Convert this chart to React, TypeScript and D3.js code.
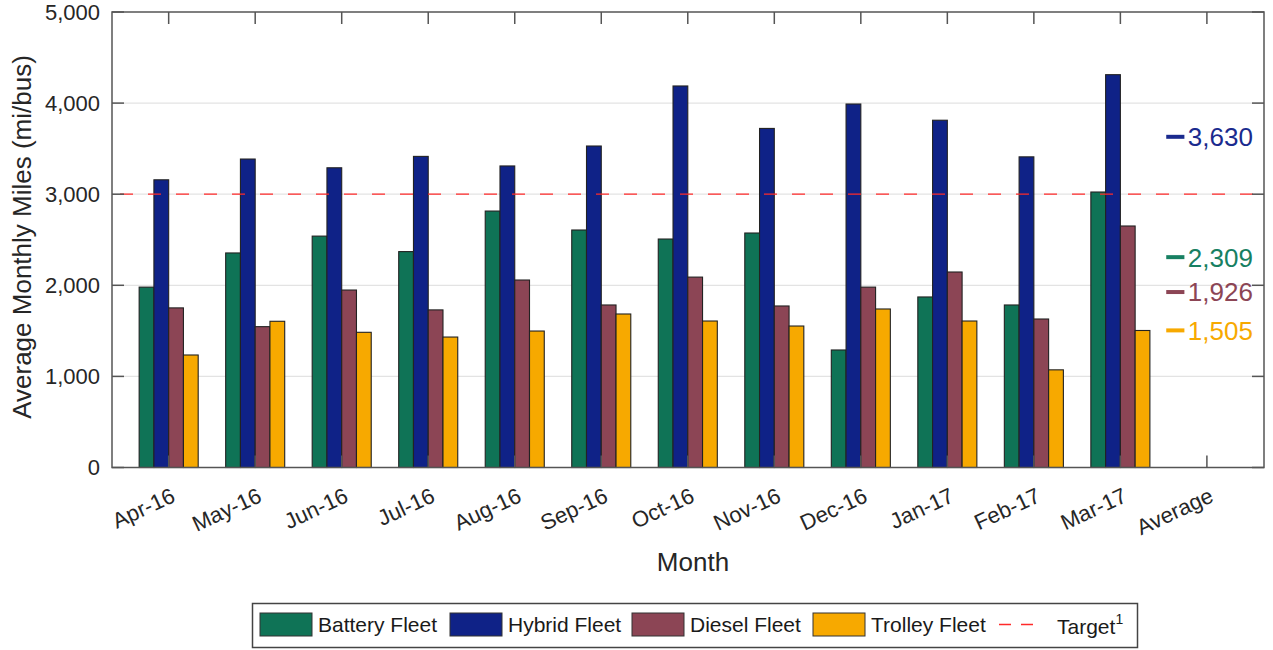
import React, { useRef, useEffect } from "react";
import * as d3 from "d3";

const months = ["Apr-16", "May-16", "Jun-16", "Jul-16", "Aug-16", "Sep-16", "Oct-16", "Nov-16", "Dec-16", "Jan-17", "Feb-17", "Mar-17", "Average"];
const seriesNames = ["Battery Fleet", "Hybrid Fleet", "Diesel Fleet", "Trolley Fleet"];
const battery = [1980, 2355, 2540, 2370, 2815, 2607, 2508, 2574, 1290, 1872, 1784, 3024];
const hybrid = [3158, 3386, 3290, 3415, 3310, 3529, 4188, 3722, 3990, 3812, 3410, 4312];
const diesel = [1752, 1546, 1948, 1730, 2058, 1784, 2090, 1773, 1980, 2146, 1630, 2651];
const trolley = [1235, 1605, 1484, 1432, 1498, 1685, 1608, 1553, 1740, 1608, 1072, 1504];
const averages = [2309, 3630, 1926, 1505];
const target = 3000;
const yTicks = [0, 1000, 2000, 3000, 4000, 5000];
const colors = ["#0f7356", "#0f2287", "#8c4555", "#f7a900"];
const avgColors = ["#178062", "#1a2a8e", "#8c4555", "#f7a900"];

const FONT = "'Liberation Sans', Arial, Helvetica, sans-serif";

const Chart: React.FC = () => {
  const ref = useRef<SVGSVGElement | null>(null);

  useEffect(() => {
    if (!ref.current) return;
    const svg = d3.select(ref.current);
    svg.selectAll("*").remove();

    const left = 112, right = 1264, top = 12, bottom = 467.5;
    const x = d3.scaleLinear().domain([0.345, 13.66]).range([left, right]);
    const y = d3.scaleLinear().domain([0, 5000]).range([bottom, top]);
    const bw = 0.1706;
    const data = [battery, hybrid, diesel, trolley];

    // gridlines
    svg.append("g")
      .selectAll("line")
      .data(yTicks.slice(1, -1))
      .enter()
      .append("line")
      .attr("x1", left).attr("x2", right)
      .attr("y1", (d) => y(d)).attr("y2", (d) => y(d))
      .attr("stroke", "#e3e3e3").attr("stroke-width", 1.2);

    // bars
    data.forEach((vals, s) => {
      svg.append("g")
        .selectAll("rect")
        .data(vals)
        .enter()
        .append("rect")
        .attr("x", (d, i) => x(i + 1 + (s - 2) * bw))
        .attr("y", (d) => y(d))
        .attr("width", x(bw) - x(0))
        .attr("height", (d) => y(0) - y(d))
        .attr("fill", colors[s])
        .attr("stroke", "#222")
        .attr("stroke-width", 1.1);
    });

    // target line
    svg.append("line")
      .attr("x1", left).attr("x2", right)
      .attr("y1", y(target)).attr("y2", y(target))
      .attr("stroke", "#ff2a2a").attr("stroke-width", 1.3)
      .attr("stroke-dasharray", "13,15")
      .attr("stroke-dashoffset", -8);

    // axes box
    const ax = svg.append("g").attr("stroke", "#555").attr("stroke-width", 1.5).attr("fill", "none");
    ax.append("rect").attr("x", left).attr("y", top).attr("width", right - left).attr("height", bottom - top);
    yTicks.forEach((t) => {
      ax.append("line").attr("x1", left).attr("x2", left + 12).attr("y1", y(t)).attr("y2", y(t));
      ax.append("line").attr("x1", right).attr("x2", right - 12).attr("y1", y(t)).attr("y2", y(t));
    });
    months.forEach((m, i) => {
      ax.append("line").attr("x1", x(i + 1)).attr("x2", x(i + 1)).attr("y1", top).attr("y2", top + 12);
      ax.append("line").attr("x1", x(i + 1)).attr("x2", x(i + 1)).attr("y1", bottom).attr("y2", bottom - 12);
    });

    // y tick labels
    svg.append("g")
      .selectAll("text")
      .data(yTicks)
      .enter()
      .append("text")
      .attr("x", 100)
      .attr("y", (d) => y(d))
      .attr("dy", "0.36em")
      .attr("text-anchor", "end")
      .attr("font-family", FONT)
      .attr("font-size", 22)
      .attr("fill", "#262626")
      .text((d) => d3.format(",")(d));

    // x tick labels
    svg.append("g")
      .selectAll("text")
      .data(months)
      .enter()
      .append("text")
      .attr("transform", (d, i) => `translate(${x(i + 1) + 8},${501}) rotate(-25)`)
      .attr("text-anchor", "end")
      .attr("font-family", FONT)
      .attr("font-size", 22)
      .attr("fill", "#262626")
      .text((d) => d);

    // axis titles
    svg.append("text")
      .attr("transform", "translate(31,237) rotate(-90)")
      .attr("text-anchor", "middle")
      .attr("font-family", FONT)
      .attr("font-size", 26)
      .attr("fill", "#262626")
      .text("Average Monthly Miles (mi/bus)");
    svg.append("text")
      .attr("x", 693).attr("y", 571)
      .attr("text-anchor", "middle")
      .attr("font-family", FONT)
      .attr("font-size", 26)
      .attr("fill", "#262626")
      .text("Month");

    // average markers
    averages.forEach((v, s) => {
      svg.append("line")
        .attr("x1", x(12.53)).attr("x2", x(12.74))
        .attr("y1", y(v)).attr("y2", y(v))
        .attr("stroke", avgColors[s]).attr("stroke-width", 4);
      svg.append("text")
        .attr("x", x(12.78)).attr("y", y(v))
        .attr("dy", "0.36em")
        .attr("font-family", FONT)
        .attr("font-size", 26)
        .attr("fill", avgColors[s])
        .text(d3.format(",")(v));
    });

    // legend
    const lg = svg.append("g");
    lg.append("rect")
      .attr("x", 252.5).attr("y", 603.5).attr("width", 885).attr("height", 44)
      .attr("fill", "#fff").attr("stroke", "#444").attr("stroke-width", 1.5);
    const swatchX = [260, 450, 632, 813];
    seriesNames.forEach((n, s) => {
      lg.append("rect")
        .attr("x", swatchX[s]).attr("y", 613).attr("width", 52).attr("height", 23)
        .attr("fill", colors[s]).attr("stroke", "#333").attr("stroke-width", 1);
      lg.append("text")
        .attr("x", swatchX[s] + 58).attr("y", 632)
        .attr("font-family", FONT).attr("font-size", 21).attr("fill", "#1a1a1a")
        .text(n);
    });
    lg.append("line")
      .attr("x1", 999).attr("x2", 1033).attr("y1", 624.5).attr("y2", 624.5)
      .attr("stroke", "#ff2a2a").attr("stroke-width", 1.3).attr("stroke-dasharray", "12,10");
    const tt = lg.append("text")
      .attr("x", 1057).attr("y", 634)
      .attr("font-family", FONT).attr("font-size", 21).attr("fill", "#1a1a1a")
      .text("Target");
    tt.append("tspan").attr("dy", -10).attr("font-size", 14).text("1");
  }, []);

  return <svg ref={ref} width={1273} height={650} style={{ display: "block", background: "#fff" }} />;
};

export default function App() {
  useEffect(() => {
    document.body.style.margin = "0";
  }, []);
  return <Chart />;
}
